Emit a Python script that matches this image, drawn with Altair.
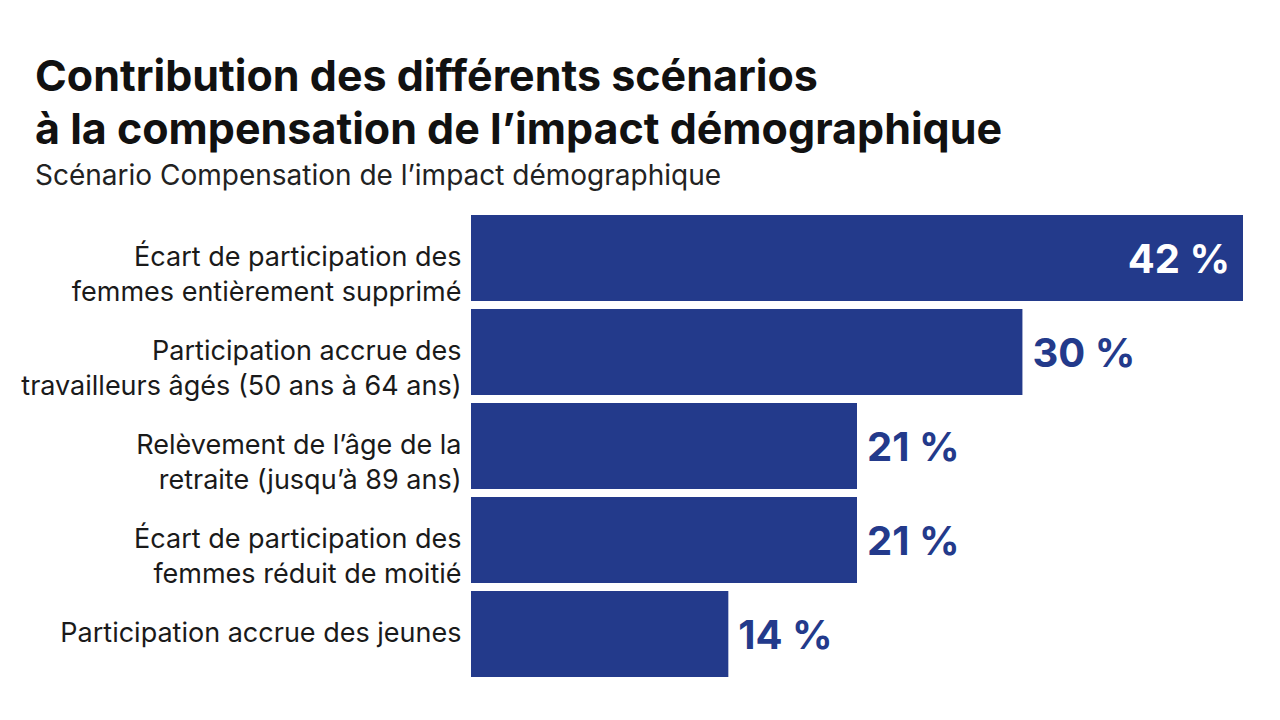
import altair as alt
import pandas as pd

# Scenario labels (line breaks mark the wrapped axis labels) and their shares, in %
scenarios = [
    "Écart de participation des\nfemmes entièrement supprimé",
    "Participation accrue des\ntravailleurs âgés (50 ans à 64 ans)",
    "Relèvement de l’âge de la\nretraite (jusqu’à 89 ans)",
    "Écart de participation des\nfemmes réduit de moitié",
    "Participation accrue des jeunes",
]
shares = [42, 30, 21, 21, 14]

NAVY = "#233a8b"
FONT = "Inter"

df = pd.DataFrame({"scenario": scenarios, "share": shares})
df["label"] = df["share"].astype(str) + " %"

y_enc = alt.Y(
    "scenario:N",
    sort=scenarios,
    scale=alt.Scale(paddingInner=0.085, paddingOuter=0),
    axis=alt.Axis(
        title=None,
        domain=False,
        ticks=False,
        labelPadding=10,
        labelLimit=0,
        labelFont=FONT,
        labelFontSize=27,
        labelColor="#1a1a1a",
        labelLineHeight=35,
        labelExpr="split(datum.label, '\\n')",
    ),
)
x_enc = alt.X("share:Q", scale=alt.Scale(domain=[0, 42], nice=False), axis=None)

base = alt.Chart(df).encode(y=y_enc, x=x_enc)

bars = base.mark_bar(color=NAVY)

inside = base.transform_filter("datum.share >= 40").mark_text(
    align="right", baseline="middle", dx=-13, dy=3,
    font=FONT, fontSize=40, fontWeight="bold", color="white",
).encode(text="label:N")

outside = base.transform_filter("datum.share < 40").mark_text(
    align="left", baseline="middle", dx=10, dy=3,
    font=FONT, fontSize=40, fontWeight="bold", color=NAVY,
).encode(text="label:N")

chart = (
    alt.layer(bars, inside, outside)
    .properties(
        width=772,
        height=462,
        autosize=alt.AutoSizeParams(type="none"),
        padding={"left": 471, "top": 215, "right": 37, "bottom": 43},
        title=alt.TitleParams(
            text=[
                "Contribution des différents scénarios",
                "à la compensation de l’impact démographique",
            ],
            subtitle="Scénario Compensation de l’impact démographique",
            anchor="start",
            frame="group",
            dx=-436,
            offset=24,
            font=FONT,
            fontSize=43,
            fontWeight="bold",
            color="#111111",
            lineHeight=53,
            subtitleFont=FONT,
            subtitleFontSize=28,
            subtitleColor="#222222",
            subtitlePadding=10,
        ),
    )
    .configure_view(stroke=None)
)

chart.save("out.html", embed_options={"renderer": "svg", "actions": False})
